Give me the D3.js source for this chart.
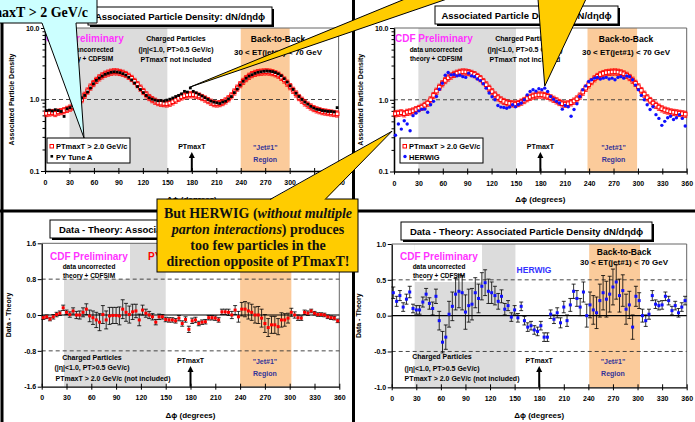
<!DOCTYPE html>
<html>
<head>
<meta charset="utf-8">
<script src="https://cdn.jsdelivr.net/npm/d3@7"></script>
<style>
body { margin: 0; background: #fff; }
svg { display: block; font-family: "Liberation Sans", Arial, sans-serif; font-weight: bold; }
</style>
</head>
<body>
<div id="chart"></div>
<script>
// bins in delta-phi (degrees)
var topBinWidth = 3.6;   // 100 bins for the density plots
var diffBinWidth = 4;    // 90 bins for the data - theory plots
var xTicks = [0, 30, 60, 90, 120, 150, 180, 210, 240, 270, 300, 330, 360];
var logTicks = [0.1, 1, 10];
var logMinor = [0.2, 0.3, 0.4, 0.5, 0.6, 0.7, 0.8, 0.9, 2, 3, 4, 5, 6, 7, 8, 9];
var pyDiffTicks = [-1.6, -0.8, 0, 0.8, 1.6];
var hwDiffTicks = [-1.0, -0.5, 0, 0.5, 1.0];

// CDF data, PTmaxT > 2.0 GeV/c
var dataTop = [0.64,0.65,0.66,0.64,0.67,0.68,0.70,0.73,0.76,0.79,
  0.84,0.90,1.00,1.15,1.32,1.50,1.68,1.86,2.02,2.15,
  2.27,2.35,2.42,2.45,2.44,2.40,2.34,2.25,2.12,1.98,
  1.80,1.62,1.45,1.30,1.17,1.07,1.00,0.95,0.91,0.89,
  0.88,0.87,0.89,0.93,0.98,1.04,1.09,1.13,1.16,1.17,
  1.17,1.15,1.12,1.07,1.02,0.97,0.92,0.88,0.87,0.88,
  0.91,0.96,1.03,1.13,1.28,1.45,1.62,1.80,1.97,2.12,
  2.24,2.33,2.39,2.42,2.44,2.45,2.43,2.38,2.30,2.20,
  2.05,1.88,1.70,1.52,1.35,1.20,1.07,0.98,0.90,0.84,
  0.79,0.75,0.72,0.70,0.68,0.67,0.66,0.65,0.64,0.63];
var dataRelErr = 0.1;

// PYTHIA Tune A
var pyTop = [0.70,0.71,0.69,0.72,0.70,0.68,0.58,0.74,0.77,0.82,
  0.90,0.98,1.05,1.14,1.27,1.45,1.66,1.85,2.00,2.13,
  2.25,2.33,2.40,2.44,2.42,2.38,2.30,2.20,2.05,1.88,
  1.70,1.52,1.38,1.25,1.14,1.06,1.01,0.98,0.96,0.97,
  0.95,0.98,1.01,1.05,1.10,1.14,1.20,1.30,1.27,1.45,
  1.30,1.24,1.18,1.12,1.06,1.00,0.95,0.92,0.90,0.88,
  0.92,0.95,1.02,1.10,1.25,1.40,1.60,1.80,1.98,2.12,
  2.22,2.32,2.40,2.44,2.48,2.50,2.48,2.45,2.38,2.28,
  2.15,1.95,1.75,1.55,1.38,1.22,1.10,1.00,0.92,0.86,
  0.80,0.76,0.73,0.72,0.70,0.69,0.68,0.68,0.67,0.77];

// HERWIG
var herwigTop = [0.32,0.46,0.39,0.51,0.46,0.37,0.60,0.65,0.70,0.74,
  0.74,0.67,0.85,0.95,1.11,1.40,1.70,2.20,2.40,2.22,
  2.25,2.15,2.20,2.10,2.05,2.35,2.15,2.10,1.95,1.85,
  1.67,1.45,1.24,1.10,1.00,0.83,0.79,0.78,0.76,0.79,
  0.85,0.80,0.86,0.90,1.00,1.17,1.30,1.38,1.32,1.42,
  1.38,1.45,1.30,1.11,1.02,0.95,0.90,0.74,0.83,0.80,
  0.59,0.73,0.88,1.11,1.38,1.56,1.80,1.90,2.00,2.05,
  1.95,2.00,2.05,1.95,2.00,1.90,2.05,2.10,2.00,2.15,
  2.10,1.90,1.60,1.38,1.15,1.00,0.85,0.73,0.80,0.62,
  0.55,0.44,0.50,0.56,0.59,0.53,0.56,0.62,0.55,0.43];

// Data - PY Tune A
var diffPy = [-0.06,-0.04,-0.09,-0.04,0.01,0.04,0.16,0.06,0.01,0.09,
  0.00,0.00,0.06,0.13,-0.02,-0.06,-0.11,-0.16,0.01,-0.11,
  -0.02,-0.01,-0.01,-0.02,0.13,0.06,0.01,0.07,0.09,-0.11,
  0.11,0.04,0.00,-0.04,-0.16,-0.04,-0.04,-0.10,-0.11,-0.11,
  -0.13,-0.07,-0.19,-0.10,-0.32,-0.13,-0.11,-0.19,-0.16,-0.15,
  -0.06,-0.06,-0.07,-0.11,0.07,0.07,0.06,0.00,0.11,-0.04,
  0.13,0.13,0.09,0.06,0.00,0.00,-0.07,-0.19,-0.28,-0.22,
  -0.22,-0.26,-0.11,-0.11,-0.07,0.06,0.00,-0.06,-0.07,0.06,
  0.04,0.09,0.04,0.01,0.01,0.00,-0.04,-0.06,-0.07,-0.13];
var errPy = [0.04,0.04,0.04,0.05,0.05,0.05,0.06,0.05,
  0.06,0.07,0.08,0.09,0.10,
  0.12,0.13,0.15,0.17,0.19,
  0.20,0.20,0.19,0.18,0.18,0.20,0.21,0.20,0.19,0.17,
  0.15,0.13,0.11,0.09,0.08,0.07,0.06,
  0.06,0.05,0.05,0.05,0.05,0.05,0.06,0.06,0.06,0.07,
  0.06,0.06,0.05,0.05,0.05,0.05,0.05,0.05,0.05,0.06,0.06,0.07,0.08,
  0.10,0.12,0.15,0.17,0.18,0.18,0.18,0.19,0.20,0.20,0.20,0.19,0.19,0.18,0.16,0.14,0.11,
  0.09,0.07,0.06,0.05,0.05,0.05,0.04,0.04,0.04,0.04,0.04,0.04,0.04,0.04,0.04];

// Data - HERWIG
var diffHw = [0.32,0.20,0.28,0.12,0.23,0.33,0.10,0.08,0.08,0.19,
  0.30,0.17,0.10,0.27,-0.07,-0.37,-0.30,0.02,0.13,0.30,
  0.34,0.32,0.05,0.14,0.16,0.32,0.24,0.41,0.46,0.34,
  0.32,0.28,0.20,0.27,0.09,0.14,-0.02,0.08,-0.03,0.13,
  -0.07,-0.16,-0.14,-0.20,-0.22,-0.14,-0.30,-0.30,0.02,-0.05,
  0.04,-0.10,0.12,-0.07,0.15,0.34,0.24,0.12,0.33,0.00,
  0.15,0.08,0.04,0.21,0.32,0.23,0.30,0.40,0.47,0.28,
  0.35,0.09,0.15,-0.16,0.27,0.21,0.00,-0.07,0.02,0.28,
  0.16,0.14,0.15,0.27,0.21,0.07,0.14,0.04,0.12,0.21];
var errHw = [0.08,0.07,0.07,0.06,0.07,0.08,0.06,
  0.06,0.06,0.07,0.08,0.08,0.09,0.10,
  0.13,0.15,0.17,0.18,0.20,0.22,0.23,0.24,
  0.24,0.23,0.22,0.21,0.20,0.19,0.18,0.17,
  0.15,0.13,0.11,0.09,0.08,0.07,0.06,
  0.06,0.06,0.06,0.06,0.06,0.06,0.06,0.06,0.06,0.06,0.06,
  0.06,0.06,0.07,0.07,0.08,0.08,0.09,0.10,0.11,0.12,
  0.14,0.16,0.18,0.20,0.22,0.23,0.24,0.25,0.25,0.25,0.24,0.23,0.22,0.21,0.19,0.17,0.14,0.11,
  0.09,0.08,0.07,0.07,0.06,0.06,0.06,0.06,0.06,0.06,0.06,0.06,0.06,0.06];

var phiTop = dataTop.map(function(d, i) { return (i + 0.5) * topBinWidth; });
var phiDiff = diffPy.map(function(d, i) { return (i + 0.5) * diffBinWidth; });

var svg = d3.select("#chart").append("svg")
    .attr("width", 695)
    .attr("height", 422);

function txt(g, x, y, s, size, color, anchor) {
  return g.append("text")
    .attr("x", x).attr("y", y)
    .attr("font-size", size)
    .attr("fill", color || "#000")
    .attr("text-anchor", anchor || "middle")
    .text(s);
}

function titleBox(x, y, w, h, s) {
  svg.append("rect").attr("x", x + 2).attr("y", y + 2).attr("width", w).attr("height", h).attr("fill", "#000");
  svg.append("rect").attr("x", x).attr("y", y).attr("width", w).attr("height", h)
    .attr("fill", "#fff").attr("stroke", "#000").attr("stroke-width", 1);
  txt(svg, x + w / 2, y + h / 2 + 3.5, s, 9.5);
}

function styleAxis(a) {
  a.attr("font-size", 7).attr("font-family", null).attr("font-weight", "bold");
  a.select(".domain").attr("stroke", "#000").attr("stroke-width", 1.3);
  a.selectAll(".tick line").attr("stroke", "#000").attr("stroke-width", 1);
  a.selectAll(".tick text").attr("fill", "#000");
}

function makePanel(c) {
  var x = d3.scaleLinear().domain([0, 360]).range([c.left, c.right]);
  var y = c.log
    ? d3.scaleLog().domain([0.1, 10]).range([c.bottom, c.top])
    : d3.scaleLinear().domain([c.ticks[0], c.ticks[c.ticks.length - 1]]).range([c.bottom, c.top]);
  var g = svg.append("g");

  // transverse (gray) and jet#1 (orange) regions
  g.append("rect").attr("x", x(c.gray[0])).attr("y", c.top)
    .attr("width", x(c.gray[1]) - x(c.gray[0])).attr("height", c.bottom - c.top)
    .attr("fill", "#dcdcdc");
  g.append("rect").attr("x", x(c.orange[0])).attr("y", c.top)
    .attr("width", x(c.orange[1]) - x(c.orange[0])).attr("height", c.bottom - c.top)
    .attr("fill", "#fbcb9b");
  if (c.cover) {
    g.append("rect").attr("x", x(c.gray[0])).attr("y", c.top)
      .attr("width", c.cover[0] - x(c.gray[0])).attr("height", c.cover[1] - c.top)
      .attr("fill", "#fff");
  }

  // frame top / right
  g.append("path")
    .attr("d", "M" + c.left + "," + c.top + "H" + c.right + "V" + c.bottom)
    .attr("fill", "none").attr("stroke", "#666").attr("stroke-width", 1);

  // reference lines
  c.dashed.forEach(function(v) {
    g.append("line").attr("x1", x(0)).attr("x2", x(360)).attr("y1", y(v)).attr("y2", y(v))
      .attr("stroke", "#333").attr("stroke-width", 0.9).attr("stroke-dasharray", "4,3");
  });
  if (!c.log) {
    g.append("line").attr("x1", x(0)).attr("x2", x(360)).attr("y1", y(0)).attr("y2", y(0))
      .attr("stroke", "#000").attr("stroke-width", 1.2);
  }

  // axes
  var xa = g.append("g").attr("transform", "translate(0," + c.bottom + ")")
    .call(d3.axisBottom(x).tickValues(xTicks).tickSize(3).tickSizeOuter(0).tickPadding(c.log ? 6.5 : 5.5));
  xa.selectAll(".tick line").attr("y1", -3);
  styleAxis(xa);

  var ya;
  if (c.log) {
    ya = g.append("g").attr("transform", "translate(" + c.left + ",0)")
      .call(d3.axisLeft(y).tickValues(logTicks).tickSize(4).tickSizeOuter(0).tickPadding(1.5)
        .tickFormat(function(d) { return d.toFixed(1); }));
    var ym = g.append("g").attr("transform", "translate(" + c.left + ",0)")
      .call(d3.axisLeft(y).tickValues(logMinor).tickSize(2.5).tickSizeOuter(0).tickFormat(""));
    styleAxis(ym);
  } else {
    ya = g.append("g").attr("transform", "translate(" + c.left + ",0)")
      .call(d3.axisLeft(y).tickValues(c.ticks).tickSize(4).tickSizeOuter(0).tickPadding(1.5)
        .tickFormat(function(d) { return d.toFixed(1); }));
  }
  styleAxis(ya);

  // axis titles
  txt(g, x(180), c.xTitleY, "\u0394\u03d5 (degrees)", 8);
  g.append("text").attr("transform", "translate(" + (c.left - 31) + "," + ((c.top + c.bottom) / 2) + ") rotate(-90)")
    .attr("font-size", 7).attr("text-anchor", "middle").text(c.yTitle);

  // PTmaxT arrow and Jet#1 region label
  var ax = x(180);
  g.append("line").attr("x1", ax).attr("x2", ax).attr("y1", c.bottom).attr("y2", c.arrowY + 4)
    .attr("stroke", "#000").attr("stroke-width", 2);
  g.append("path").attr("d", "M" + (ax - 3) + "," + (c.arrowY + 6) + "L" + ax + "," + c.arrowY + "L" + (ax + 3) + "," + (c.arrowY + 6) + "Z")
    .attr("fill", "#000");
  txt(g, ax, c.arrowY - 3, "PTmaxT", 7);
  txt(g, x(270), c.arrowY - 2, "\"Jet#1\"", 7, "#333399");
  txt(g, x(270), c.arrowY + 10, "Region", 7, "#333399");

  return { g: g, x: x, y: y, c: c };
}

function drawDensity(p, model, modelColor, modelShape) {
  var g = p.g, x = p.x, y = p.y;
  g.append("g").selectAll("path").data(dataTop).enter().append("path")
    .attr("d", function(d, i) {
      var cx = x(phiTop[i]), y1 = y(d * (1 - dataRelErr)), y2 = y(d * (1 + dataRelErr));
      return "M" + cx + "," + y1 + "V" + y2 + "M" + (cx - 2) + "," + y1 + "h4M" + (cx - 2) + "," + y2 + "h4";
    })
    .attr("stroke", "#f00").attr("stroke-width", 0.8).attr("fill", "none");
  g.append("g").selectAll("rect").data(dataTop).enter().append("rect")
    .attr("x", function(d, i) { return x(phiTop[i]) - 1.8; })
    .attr("y", function(d) { return y(d) - 1.8; })
    .attr("width", 3.6).attr("height", 3.6)
    .attr("fill", "#fff").attr("stroke", "#f00").attr("stroke-width", 1);
  var pts = g.append("g").selectAll("g").data(model).enter();
  if (modelShape === "square") {
    pts.append("rect")
      .attr("x", function(d, i) { return x(phiTop[i]) - 1.4; })
      .attr("y", function(d) { return y(d) - 1.4; })
      .attr("width", 2.8).attr("height", 2.8).attr("fill", modelColor);
  } else {
    pts.append("circle")
      .attr("cx", function(d, i) { return x(phiTop[i]); })
      .attr("cy", function(d) { return y(d); })
      .attr("r", 1.7).attr("fill", modelColor);
  }
}

function drawDiff(p, vals, errs, color) {
  var g = p.g, x = p.x, y = p.y;
  g.append("g").selectAll("path").data(vals).enter().append("path")
    .attr("d", function(d, i) {
      var cx = x(phiDiff[i]), y1 = y(d - errs[i]), y2 = y(d + errs[i]);
      return "M" + cx + "," + y1 + "V" + y2 + "M" + (cx - 2) + "," + y1 + "h4M" + (cx - 2) + "," + y2 + "h4";
    })
    .attr("stroke", "#000").attr("stroke-width", 0.8).attr("fill", "none");
  g.append("g").selectAll("rect").data(vals).enter().append("rect")
    .attr("x", function(d, i) { return x(phiDiff[i]) - 1.5; })
    .attr("y", function(d) { return y(d) - 1.5; })
    .attr("width", 3).attr("height", 3).attr("fill", color);
}

function legend(g, x0, y0, label2, color2, shape2) {
  g.append("rect").attr("x", x0).attr("y", y0).attr("width", 83).attr("height", 25)
    .attr("fill", "#fff").attr("stroke", "#000").attr("stroke-width", 1);
  g.append("rect").attr("x", x0 + 3).attr("y", y0 + 6.5).attr("width", 3.5).attr("height", 3.5)
    .attr("fill", "#fff").attr("stroke", "#f00").attr("stroke-width", 1);
  txt(g, x0 + 9, y0 + 11, "PTmaxT > 2.0 GeV/c", 7.5, "#000", "start");
  if (shape2 === "square") {
    g.append("rect").attr("x", x0 + 3.5).attr("y", y0 + 17).attr("width", 2.6).attr("height", 2.6).attr("fill", color2);
  } else {
    g.append("circle").attr("cx", x0 + 5).attr("cy", y0 + 18.5).attr("r", 1.7).attr("fill", color2);
  }
  txt(g, x0 + 9, y0 + 21.5, label2, 7.5, "#000", "start");
}

// ---------- top left: data vs PY Tune A ----------
var tl = makePanel({ left: 45, right: 338.6, top: 28, bottom: 171, log: true,
  gray: [30, 150], orange: [240, 300], dashed: [1], xTitleY: 202, arrowY: 152,
  yTitle: "Associated Particle Density" });
txt(tl.g, 46, 42, "CDF Preliminary", 10, "#ff33ff", "start");
txt(tl.g, 87, 52, "data uncorrected", 6.5);
txt(tl.g, 87, 61, "theory + CDFSIM", 6.5);
txt(tl.g, 176, 40.5, "Charged Particles", 7);
txt(tl.g, 176, 51.5, "(|\u03b7|<1.0, PT>0.5 GeV/c)", 7);
txt(tl.g, 176, 61.5, "PTmaxT not included", 7);
txt(tl.g, 278, 42, "Back-to-Back", 8.5);
txt(tl.g, 278, 55, "30 < ET(jet#1) < 70 GeV", 8);
drawDensity(tl, pyTop, "#000", "square");
legend(tl.g, 47, 138, "PY Tune A", "#000", "square");
titleBox(88, 7, 184, 18, "Associated Particle Density: dN/d\u03b7d\u03d5");

// ---------- top right: data vs HERWIG ----------
var tr = makePanel({ left: 394, right: 686.7, top: 28, bottom: 171.5, log: true,
  gray: [30, 150], orange: [238, 299], dashed: [1], xTitleY: 202, arrowY: 152,
  yTitle: "Associated Particle Density" });
txt(tr.g, 395, 42, "CDF Preliminary", 10, "#ff33ff", "start");
txt(tr.g, 436, 52, "data uncorrected", 6.5);
txt(tr.g, 436, 61, "theory + CDFSIM", 6.5);
txt(tr.g, 525, 40.5, "Charged Particles", 7);
txt(tr.g, 525, 51.5, "(|\u03b7|<1.0, PT>0.5 GeV/c)", 7);
txt(tr.g, 525, 61.5, "PTmaxT not included", 7);
txt(tr.g, 626, 42, "Back-to-Back", 8.5);
txt(tr.g, 626, 55, "30 < ET(jet#1) < 70 GeV", 8);
drawDensity(tr, herwigTop, "#1010ff", "circle");
legend(tr.g, 400, 138, "HERWIG", "#1010ff", "circle");
titleBox(435, 6, 183, 18, "Associated Particle Density: dN/d\u03b7d\u03d5");

// ---------- bottom left: data - PY Tune A ----------
var bl = makePanel({ left: 41.7, right: 339.3, top: 243.3, bottom: 386.7, log: false,
  ticks: pyDiffTicks, gray: [27, 150], orange: [240, 302], dashed: [-0.8, 0.8],
  cover: [130, 279], xTitleY: 418, arrowY: 366, yTitle: "Data - Theory" });
txt(bl.g, 50, 260, "CDF Preliminary", 10, "#ff33ff", "start");
txt(bl.g, 148, 260, "PY Tune A", 10, "#f00", "start");
txt(bl.g, 89, 269, "data uncorrected", 6.5);
txt(bl.g, 89, 278, "theory + CDFSIM", 6.5);
txt(bl.g, 92, 359.5, "Charged Particles", 7);
txt(bl.g, 92, 369.5, "(|\u03b7|<1.0, PT>0.5 GeV/c)", 7);
txt(bl.g, 113, 380.5, "PTmaxT > 2.0 GeV/c (not included)", 7);
drawDiff(bl, diffPy, errPy, "#f00");
titleBox(50, 220, 251, 18, "Data - Theory: Associated Particle Density dN/d\u03b7d\u03d5");

// ---------- bottom right: data - HERWIG ----------
var br = makePanel({ left: 391.7, right: 686.7, top: 244, bottom: 387.3, log: false,
  ticks: hwDiffTicks, gray: [28, 151], orange: [241, 303], dashed: [-0.5, 0.5],
  cover: [482, 282], xTitleY: 418, arrowY: 366, yTitle: "Data - Theory" });
txt(br.g, 400, 260, "CDF Preliminary", 10, "#ff33ff", "start");
txt(br.g, 439, 269, "data uncorrected", 6.5);
txt(br.g, 439, 278, "theory + CDFSIM", 6.5);
txt(br.g, 534, 273, "HERWIG", 8.5, "#3333ff");
txt(br.g, 624, 255, "Back-to-Back", 8.5);
txt(br.g, 624, 265, "30 < ET(jet#1) < 70 GeV", 8);
txt(br.g, 442, 358.5, "Charged Particles", 7);
txt(br.g, 442, 370.5, "(|\u03b7|<1.0, PT>0.5 GeV/c)", 7);
txt(br.g, 462, 380.5, "PTmaxT > 2.0 GeV/c (not included)", 7);
drawDiff(br, diffHw, errHw, "#1010ff");
titleBox(401, 222, 251, 18, "Data - Theory: Associated Particle Density dN/d\u03b7d\u03d5");

// ---------- slide frame ----------
svg.append("line").attr("x1", 2).attr("x2", 2).attr("y1", 0).attr("y2", 422).attr("stroke", "#000").attr("stroke-width", 3);
svg.append("line").attr("x1", 353.5).attr("x2", 353.5).attr("y1", 0).attr("y2", 422).attr("stroke", "#000").attr("stroke-width", 3);
svg.append("line").attr("x1", 0).attr("x2", 695).attr("y1", 211).attr("y2", 211).attr("stroke", "#000").attr("stroke-width", 3);

// ---------- callouts ----------
var yellow = "#ffcc00";
// wedges pointing at model points from off-slide callouts
var tipPy = [tl.x(phiTop[49]), tl.y(pyTop[49]) - 1];
svg.append("path")
  .attr("d", "M" + tipPy[0] + "," + tipPy[1] + "L405,-1L447,-1Z")
  .attr("fill", yellow).attr("stroke", "#000").attr("stroke-width", 1);
var tipHw = [tr.x(phiTop[51]), tr.y(herwigTop[51]) - 2];
svg.append("path")
  .attr("d", "M" + tipHw[0] + "," + tipHw[1] + "L538,-1L586,-1Z")
  .attr("fill", yellow).attr("stroke", "#000").attr("stroke-width", 1);

// callout box with wedge to the low HERWIG points near 0 degrees
var tipLow = [tr.x(0) - 2, tr.y(herwigTop[0]) - 4];
svg.append("rect").attr("x", 157).attr("y", 199).attr("width", 201).attr("height", 73)
  .attr("fill", yellow).attr("stroke", "#000").attr("stroke-width", 1);
svg.append("path")
  .attr("d", "M270,200L" + tipLow[0] + "," + tipLow[1] + "L325,200Z")
  .attr("fill", yellow);
svg.append("path")
  .attr("d", "M270,199.5L" + tipLow[0] + "," + tipLow[1] + "L325,199.5")
  .attr("fill", "none").attr("stroke", "#000").attr("stroke-width", 1);

var note = svg.append("g").attr("font-family", "'Liberation Serif', 'Times New Roman', serif")
  .attr("font-size", 14).attr("text-anchor", "middle").attr("fill", "#111");
var l1 = note.append("text").attr("x", 258).attr("y", 218);
l1.append("tspan").text("But HERWIG (");
l1.append("tspan").attr("font-style", "italic").text("without multiple");
var l2 = note.append("text").attr("x", 258).attr("y", 234);
l2.append("tspan").attr("font-style", "italic").text("parton interactions");
l2.append("tspan").text(") produces");
note.append("text").attr("x", 258).attr("y", 250).text("too few particles in the");
note.append("text").attr("x", 258).attr("y", 266).text("direction opposite of PTmaxT!");

// cyan callout pointing at the data legend entry
svg.append("path")
  .attr("d", "M-2,-2H97V23H76L84,138L42,23H-2Z")
  .attr("fill", "#ccffff").attr("stroke", "#000").attr("stroke-width", 1);
svg.append("text").attr("x", 88).attr("y", 17)
  .attr("font-family", "'Liberation Serif', 'Times New Roman', serif")
  .attr("font-size", 14).attr("text-anchor", "end")
  .text("PTmaxT > 2 GeV/c");
</script>
</body>
</html>
